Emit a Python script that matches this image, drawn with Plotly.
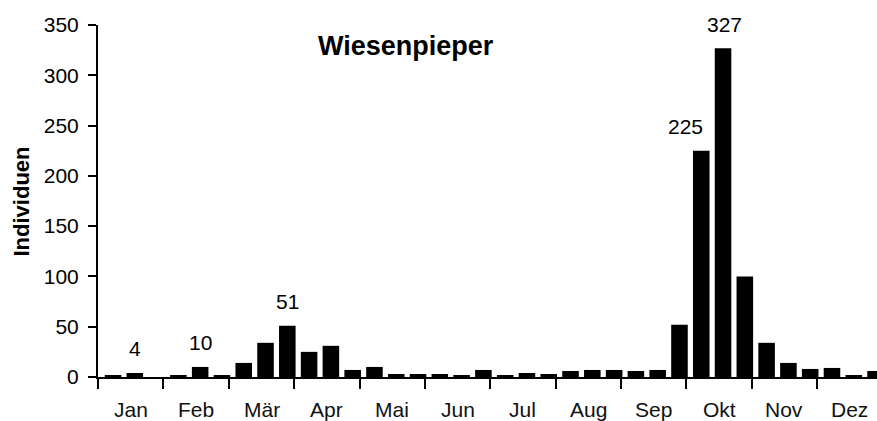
import plotly.graph_objects as go

# Data: 3 decades (Dekaden) per month, Jan..Dez
months = ["Jan", "Feb", "Mär", "Apr", "Mai", "Jun",
          "Jul", "Aug", "Sep", "Okt", "Nov", "Dez"]
values = [2, 4, 0,
          1, 10, 1,
          14, 34, 51,
          25, 31, 7,
          10, 3, 3,
          3, 1, 7,
          2, 4, 3,
          6, 7, 7,
          6, 7, 52,
          225, 327, 100,
          34, 14, 8,
          9, 2, 6]
# labelled bars: (index, text)
label_idx = [1, 4, 8, 27, 28]
label_txt = ["4", "10", "51", "225", "327"]
label_xshift = [0, 0, 0, -16, 1]

title_text = "Wiesenpieper"
y_title = "Individuen"
y_ticks = [0, 50, 100, 150, 200, 250, 300, 350]

FONT = "Arial, 'Liberation Sans', sans-serif"
off = 0.184  # offset between tick boundaries and bar slots

xs = [i + 0.5 for i in range(len(values))]

fig = go.Figure()
fig.add_trace(go.Bar(x=xs, y=values, marker=dict(color="black", line=dict(width=0)),
                     hoverinfo="x+y"))

annotations = []
for idx, txt, dx in zip(label_idx, label_txt, label_xshift):
    annotations.append(dict(x=xs[idx], y=values[idx], xref="x", yref="y", text=txt,
                            showarrow=False, yanchor="middle", yshift=24, xshift=dx,
                            font=dict(family=FONT, size=21, color="black")))
for k, m in enumerate(months):
    annotations.append(dict(x=3 * k + 1.5 - off, y=0, xref="x", yref="paper", text=m,
                            showarrow=False, yanchor="middle", yshift=-32.5,
                            font=dict(family=FONT, size=21, color="#111")))
annotations.append(dict(x=(406 - 98) / 779, y=(377 - 45.5) / 352, xref="paper", yref="paper",
                        text="<b>" + title_text + "</b>", showarrow=False,
                        xanchor="center", yanchor="middle",
                        font=dict(family=FONT, size=27, color="black")))
annotations.append(dict(x=(21 - 98) / 779, y=(377 - 201.5) / 352, xref="paper", yref="paper",
                        text="<b>" + y_title + "</b>", showarrow=False, textangle=-90,
                        xanchor="center", yanchor="middle",
                        font=dict(family=FONT, size=22, color="black")))

fig.update_layout(
    width=877, height=421,
    margin=dict(l=98, r=0, t=25, b=44),
    paper_bgcolor="white", plot_bgcolor="white",
    bargap=0.24, showlegend=False,
    font=dict(family=FONT, size=21, color="black"),
    annotations=annotations,
    xaxis=dict(range=[-off - 0.005, (877 - 98) / 21.79 - off], showgrid=False, zeroline=False,
               showline=True, linecolor="black", linewidth=2,
               tickmode="array", tickvals=[3 * k - off for k in range(12)],
               showticklabels=False, ticks="outside", ticklen=10, tickwidth=2,
               tickcolor="black"),
    yaxis=dict(range=[0, 350], showgrid=False, zeroline=False,
               showline=True, linecolor="black", linewidth=2,
               tickmode="array", tickvals=y_ticks, ticks="outside", ticklen=8,
               tickwidth=2, tickcolor="black", ticklabelstandoff=5,
               tickfont=dict(family=FONT, size=21, color="black")),
)

fig.write_html("out.html", config={"displayModeBar": False},
               post_script="document.body.style.margin='0';document.body.style.overflow='hidden';")
